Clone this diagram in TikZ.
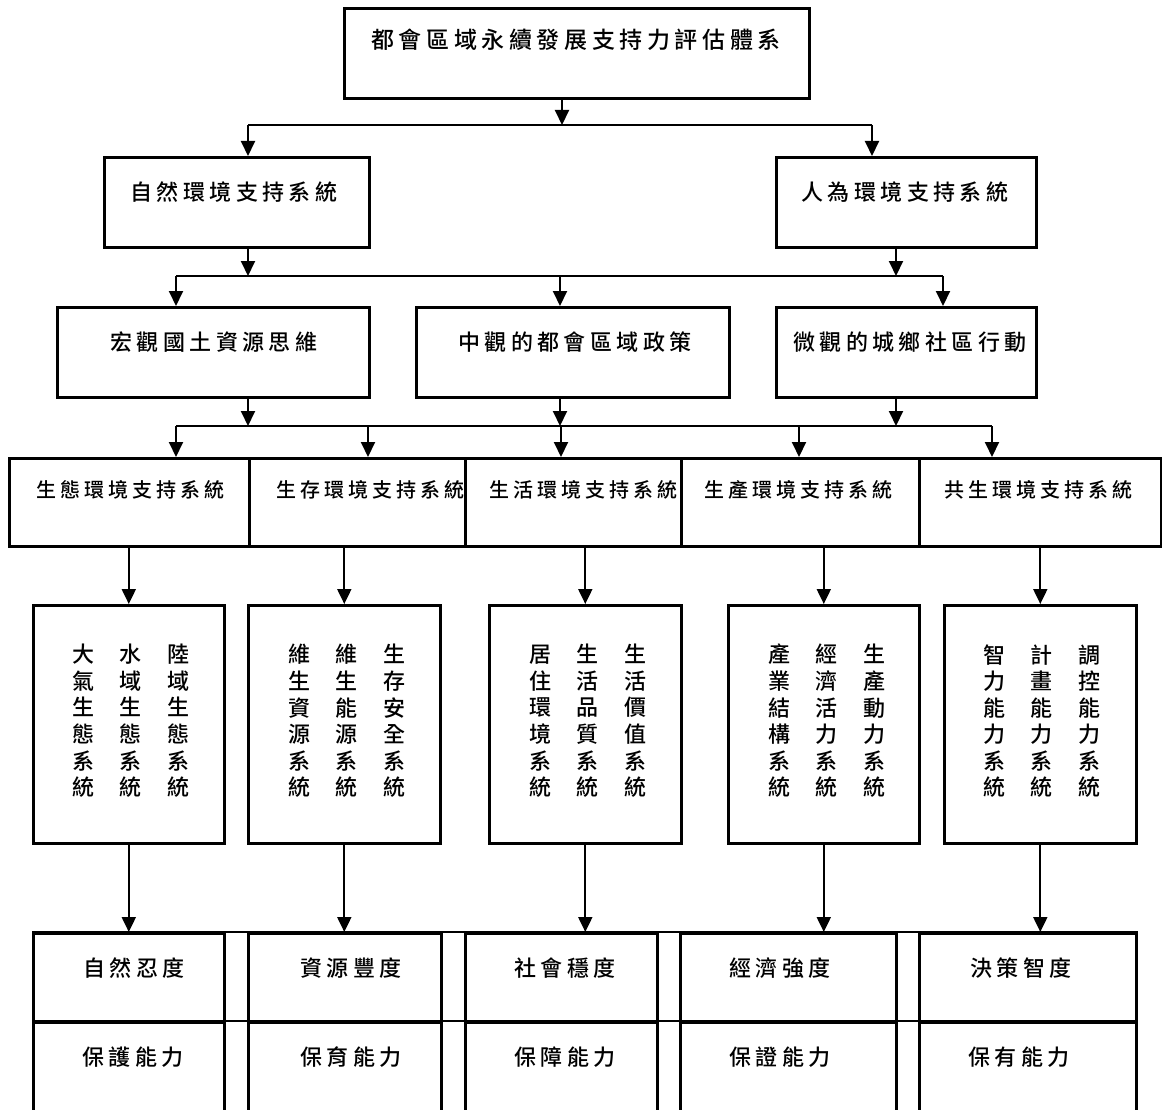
\documentclass[tikz,border=0pt]{standalone}
\usepackage{fontspec}
\newfontfamily\cjk[LetterSpace=20,UprightFont=* Medium]{Noto Sans CJK TC}
\newfontfamily\cjkplain[UprightFont=* Medium]{Noto Sans CJK TC}
\usetikzlibrary{arrows.meta}
\begin{document}
\begin{tikzpicture}[x=1pt,y=-1pt,
  bx/.style={draw,line width=2.6pt,inner sep=0pt,anchor=north west},
  cn/.style={line width=2pt},
  ar/.style={line width=2pt,-{Triangle[width=14pt,length=15pt]}},
  tx/.style={inner sep=0pt,font=\cjk\fontsize{22}{26}\selectfont},
  ts/.style={inner sep=0pt,font=\cjk\fontsize{20}{24}\selectfont},
  tt/.style={inner sep=0pt,font=\cjk\fontsize{23}{28}\selectfont},
  tc/.style={inner sep=0pt,font=\cjkplain\fontsize{22}{26.4}\selectfont}]
\useasboundingbox[fill=white] (0,0) rectangle (1162,1110);

% ---- top
\node[bx,minimum width=465pt,minimum height=90pt] (top) at (343,7) {};
\node[tt] (top-t) at (576,40) {都會區域永續發展支持力評估體系};

% ---- level 2
\node[bx,minimum width=265pt,minimum height=90pt] (nat) at (103,156) {};
\node[tx] (nat-t) at (234,192) {自然環境支持系統};
\node[bx,minimum width=260pt,minimum height=90pt] (hum) at (775,156) {};
\node[tx] (hum-t) at (905,192) {人為環境支持系統};

% ---- level 3
\node[bx,minimum width=312pt,minimum height=90pt] (mac) at (56,306) {};
\node[tx] (mac-t) at (214,342) {宏觀國土資源思維};
\node[bx,minimum width=313pt,minimum height=90pt] (mes) at (415,306) {};
\node[tx] (mes-t) at (575,342) {中觀的都會區域政策};
\node[bx,minimum width=260pt,minimum height=90pt] (mic) at (775,306) {};
\node[tx] (mic-t) at (910,342) {微觀的城鄉社區行動};

% ---- level 4
\node[bx,minimum width=240pt,minimum height=88pt] (ga) at (8,457) {};
\node[bx,minimum width=216pt,minimum height=88pt] (gb) at (248,457) {};
\node[bx,minimum width=216pt,minimum height=88pt] (gc) at (464,457) {};
\node[bx,minimum width=238pt,minimum height=88pt] (gd) at (680,457) {};
\node[bx,minimum width=242pt,minimum height=88pt] (ge) at (918,457) {};
\node[ts] (ga-t) at (130,490) {生態環境支持系統};
\node[ts] (gb-t) at (370,490) {生存環境支持系統};
\node[ts] (gc-t) at (583,490) {生活環境支持系統};
\node[ts] (gd-t) at (798,490) {生產環境支持系統};
\node[ts] (ge-t) at (1038,490) {共生環境支持系統};

% ---- level 5
\node[bx,minimum width=191pt,minimum height=238pt] (f1) at (32,604) {};
\node[bx,minimum width=192pt,minimum height=238pt] (f2) at (247,604) {};
\node[bx,minimum width=192pt,minimum height=238pt] (f3) at (488,604) {};
\node[bx,minimum width=191pt,minimum height=238pt] (f4) at (727,604) {};
\node[bx,minimum width=192pt,minimum height=238pt] (f5) at (943,604) {};
\newcommand\colsep{@{\hspace{26pt}}}
\node[tc] (f1-t) at (131,724) {\begin{tabular}{@{}c\colsep c\colsep c@{}}
大&水&陸\\ 氣&域&域\\ 生&生&生\\ 態&態&態\\ 系&系&系\\ 統&統&統\end{tabular}};
\node[tc] (f2-t) at (347,724) {\begin{tabular}{@{}c\colsep c\colsep c@{}}
維&維&生\\ 生&生&存\\ 資&能&安\\ 源&源&全\\ 系&系&系\\ 統&統&統\end{tabular}};
\node[tc] (f3-t) at (588,724) {\begin{tabular}{@{}c\colsep c\colsep c@{}}
居&生&生\\ 住&活&活\\ 環&品&價\\ 境&質&值\\ 系&系&系\\ 統&統&統\end{tabular}};
\node[tc] (f4-t) at (827,724) {\begin{tabular}{@{}c\colsep c\colsep c@{}}
產&經&生\\ 業&濟&產\\ 結&活&動\\ 構&力&力\\ 系&系&系\\ 統&統&統\end{tabular}};
\node[tc] (f5-t) at (1042,724) {\begin{tabular}{@{}c\colsep c\colsep c@{}}
智&計&調\\ 力&畫&控\\ 能&能&能\\ 力&力&力\\ 系&系&系\\ 統&統&統\end{tabular}};

% ---- bottom table
\node[bx,minimum width=191pt,minimum height=89pt] (d1) at (32,932) {};
\node[bx,minimum width=193pt,minimum height=89pt] (d2) at (247,932) {};
\node[bx,minimum width=192pt,minimum height=89pt] (d3) at (464,932) {};
\node[bx,minimum width=216pt,minimum height=89pt] (d4) at (679,932) {};
\node[bx,minimum width=217pt,minimum height=89pt] (d5) at (918,932) {};
\node[bx,minimum width=191pt,minimum height=97pt] (e1) at (32,1021) {};
\node[bx,minimum width=193pt,minimum height=97pt] (e2) at (247,1021) {};
\node[bx,minimum width=192pt,minimum height=97pt] (e3) at (464,1021) {};
\node[bx,minimum width=216pt,minimum height=97pt] (e4) at (679,1021) {};
\node[bx,minimum width=217pt,minimum height=97pt] (e5) at (918,1021) {};
\draw[line width=2.6pt] (d1.north west) -- (d5.north east);
\draw[line width=2.6pt] (e1.north west) -- (e5.north east);
\node[tx] (d1-t) at (134,968) {自然忍度};
\node[tx] (d2-t) at (351,968) {資源豐度};
\node[tx] (d3-t) at (565,968) {社會穩度};
\node[tx] (d4-t) at (780,968) {經濟強度};
\node[tx] (d5-t) at (1021,968) {決策智度};
\node[tx] (e1-t) at (133,1057) {保護能力};
\node[tx] (e2-t) at (351,1057) {保育能力};
\node[tx] (e3-t) at (565,1057) {保障能力};
\node[tx] (e4-t) at (780,1057) {保證能力};
\node[tx] (e5-t) at (1019,1057) {保有能力};

% ---- connectors level 1 -> 2
\coordinate (j0) at (562,125);
\coordinate (j1a) at (248,125);
\coordinate (j1b) at (872,125);
\draw[ar] (j0 |- top.south) -- (j0);
\draw[cn] (j1a) -- (j1b);
\draw[ar] (j1a) -- (j1a |- nat.north);
\draw[ar] (j1b) -- (j1b |- hum.north);

% ---- level 2 -> 3
\coordinate (k1) at (248,276);
\coordinate (k2) at (896,276);
\coordinate (k3a) at (176,276);
\coordinate (k3b) at (560,276);
\coordinate (k3c) at (943,276);
\draw[ar] (k1 |- nat.south) -- (k1);
\draw[ar] (k2 |- hum.south) -- (k2);
\draw[cn] (k3a) -- (k3c);
\draw[ar] (k3a) -- (k3a |- mac.north);
\draw[ar] (k3b) -- (k3b |- mes.north);
\draw[ar] (k3c) -- (k3c |- mic.north);

% ---- level 3 -> 4
\coordinate (m1) at (248,426);
\coordinate (m2) at (560,426);
\coordinate (m3) at (896,426);
\coordinate (n1) at (176,426);
\coordinate (n2) at (368,426);
\coordinate (n3) at (561,426);
\coordinate (n4) at (799,426);
\coordinate (n5) at (992,426);
\draw[ar] (m1 |- mac.south) -- (m1);
\draw[ar] (m2 |- mes.south) -- (m2);
\draw[ar] (m3 |- mic.south) -- (m3);
\draw[cn] (n1) -- (n5);
\draw[ar] (n1) -- (n1 |- ga.north);
\draw[ar] (n2) -- (n2 |- gb.north);
\draw[ar] (n3) -- (n3 |- gc.north);
\draw[ar] (n4) -- (n4 |- gd.north);
\draw[ar] (n5) -- (n5 |- ge.north);

% ---- level 4 -> 5
\draw[ar] (f1.north |- ga.south) -- (f1.north);
\draw[ar] (f2.north |- gb.south) -- (f2.north);
\draw[ar] (f3.north |- gc.south) -- (f3.north);
\draw[ar] (f4.north |- gd.south) -- (f4.north);
\draw[ar] (f5.north |- ge.south) -- (f5.north);

% ---- level 5 -> table
\draw[ar] (f1.south) -- (f1.south |- d1.north);
\draw[ar] (f2.south) -- (f2.south |- d2.north);
\draw[ar] (f3.south) -- (f3.south |- d3.north);
\draw[ar] (f4.south) -- (f4.south |- d4.north);
\draw[ar] (f5.south) -- (f5.south |- d5.north);
\end{tikzpicture}
\end{document}
